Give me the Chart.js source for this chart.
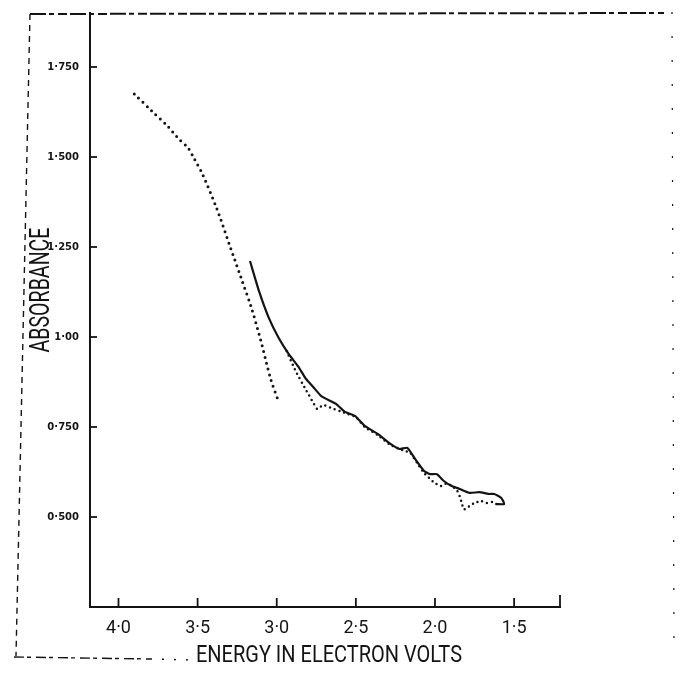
<!DOCTYPE html>
<html>
<head>
<meta charset="utf-8">
<script src="https://cdn.jsdelivr.net/npm/chart.js@4.4.0/dist/chart.umd.min.js"></script>
<style>
  html, body { margin: 0; padding: 0; background: #fff; }
  #wrap { width: 680px; height: 687px; position: relative; }
</style>
</head>
<body>
<div id="wrap"><canvas id="absChart"></canvas></div>
<script>
// dotted trace at high energy (steep edge)
const steepEnergy = [3.90, 3.79, 3.69, 3.625, 3.56, 3.52, 3.47, 3.38, 3.30, 3.225, 3.16, 3.10, 3.04, 2.99];
const steepAbs    = [1.675, 1.628, 1.586, 1.553, 1.525, 1.494, 1.453, 1.358, 1.258, 1.164, 1.081, 0.989, 0.886, 0.822];

// solid trace
const solidEnergy = [3.169, 3.1125, 3.05, 2.9875, 2.925, 2.8625, 2.819, 2.769, 2.719, 2.625, 2.569, 2.506,
  2.444, 2.3625, 2.281, 2.225, 2.175, 2.125, 2.069, 2.031, 1.9875, 1.944, 1.894, 1.844, 1.781, 1.719,
  1.6625, 1.625, 1.581, 1.5625, 1.6125];
const solidAbs = [1.211, 1.128, 1.053, 0.997, 0.953, 0.917, 0.886, 0.861, 0.836, 0.814, 0.792, 0.781,
  0.753, 0.731, 0.703, 0.689, 0.692, 0.661, 0.628, 0.619, 0.619, 0.600, 0.586, 0.578, 0.567, 0.569,
  0.564, 0.564, 0.553, 0.536, 0.536];

// dotted trace running under the solid one
const lowEnergy = [2.9375, 2.881, 2.819, 2.769, 2.744, 2.706, 2.656, 2.60, 2.55, 2.50, 2.444, 2.3625,
  2.281, 2.206, 2.156, 2.1125, 2.069, 2.031, 2.00, 1.9625, 1.925, 1.894, 1.8625, 1.844, 1.831, 1.819,
  1.80, 1.781, 1.75, 1.706, 1.675, 1.631, 1.60];
const lowAbs = [0.961, 0.906, 0.856, 0.817, 0.800, 0.811, 0.803, 0.794, 0.786, 0.778, 0.750, 0.728,
  0.700, 0.686, 0.678, 0.650, 0.622, 0.606, 0.594, 0.586, 0.594, 0.586, 0.575, 0.558, 0.539, 0.522,
  0.522, 0.531, 0.539, 0.544, 0.539, 0.542, 0.531];

const xTickValues = [4.0, 3.5, 3.0, 2.5, 2.0, 1.5];
const xTickLabels = ["4·0", "3·5", "3·0", "2·5", "2·0", "1·5"];
const yTickValues = [0.5, 0.75, 1.0, 1.25, 1.5, 1.75];
const yTickLabels = ["0·500", "0·750", "1·00", "1·250", "1·500", "1·750"];

const xTitle = "ENERGY IN ELECTRON VOLTS";
const yTitle = "ABSORBANCE";

const ink = "#141414";

function toPoints(xs, ys) {
  return xs.map((x, i) => ({ x: x, y: ys[i] }));
}

function seg(ctx, x1, y1, x2, y2) {
  ctx.beginPath();
  ctx.moveTo(x1, y1);
  ctx.lineTo(x2, y2);
  ctx.stroke();
}

// lettering squeezed to a given length, like stencilled captions
function narrowText(ctx, text, cx, cy, len, size, angle) {
  ctx.save();
  ctx.translate(cx, cy);
  ctx.rotate(angle);
  ctx.font = size + "px Roboto";
  ctx.textAlign = "center";
  ctx.textBaseline = "middle";
  const w = ctx.measureText(text).width;
  ctx.scale(len / w, 1);
  ctx.fillText(text, 0, 0);
  ctx.restore();
}

// inward tick marks, axis captions and the ragged page border
const paperMarks = {
  id: "paperMarks",
  afterDraw(chart) {
    const { ctx, scales } = chart;
    const x = scales.x, y = scales.y;
    ctx.save();
    ctx.strokeStyle = ink;
    ctx.fillStyle = ink;
    ctx.lineWidth = 1.8;
    xTickValues.forEach((v) => {
      const px = x.getPixelForValue(v);
      seg(ctx, px, x.top, px, x.top - 9);
    });
    seg(ctx, x.right, x.top, x.right, x.top - 12);
    yTickValues.forEach((v) => {
      const py = y.getPixelForValue(v);
      seg(ctx, y.right, py, y.right + 7, py);
    });

    narrowText(ctx, xTitle, 329, 656, 266, 24, 0);
    narrowText(ctx, yTitle, 42, 290, 125, 28, -Math.PI / 2);

    // page edges
    ctx.lineWidth = 2;
    ctx.setLineDash([16, 3, 5, 4, 9, 3]);
    seg(ctx, 30, 14, 664, 13);
    ctx.lineWidth = 1.4;
    ctx.setLineDash([6, 5]);
    seg(ctx, 30, 14, 16, 656);
    ctx.setLineDash([10, 3, 4, 5]);
    seg(ctx, 14, 657, 150, 659);
    ctx.setLineDash([2, 10]);
    seg(ctx, 150, 659, 195, 660);
    ctx.lineWidth = 1.2;
    ctx.setLineDash([2, 22]);
    seg(ctx, 672, 12, 674, 650);
    ctx.restore();
  },
};

new Chart(document.getElementById("absChart"), {
  type: "line",
  data: {
    datasets: [
      {
        data: toPoints(steepEnergy, steepAbs),
        borderColor: ink,
        borderWidth: 3,
        borderDash: [0, 6],
        borderCapStyle: "round",
        tension: 0.3,
        pointRadius: 0,
      },
      {
        data: toPoints(lowEnergy, lowAbs),
        borderColor: ink,
        borderWidth: 2.5,
        borderDash: [0, 5],
        borderCapStyle: "round",
        tension: 0.15,
        pointRadius: 0,
      },
      {
        data: toPoints(solidEnergy, solidAbs),
        borderColor: ink,
        borderWidth: 2.2,
        tension: 0.15,
        pointRadius: 0,
      },
    ],
  },
  options: {
    responsive: true,
    maintainAspectRatio: false,
    animation: false,
    layout: { padding: { top: 13, right: 120, left: 0, bottom: 0 } },
    plugins: {
      legend: { display: false },
      tooltip: { enabled: false },
    },
    scales: {
      x: {
        type: "linear",
        reverse: true,
        min: 1.21,
        max: 4.18,
        grid: { display: false },
        border: { display: true, color: ink, width: 2 },
        afterBuildTicks: (scale) => {
          scale.ticks = xTickValues.map((v) => ({ value: v }));
        },
        afterFit: (scale) => {
          scale.height = 80;
        },
        ticks: {
          color: ink,
          padding: 3,
          maxRotation: 0,
          autoSkip: false,
          font: { family: "Roboto", size: 18 },
          callback: (v) => xTickLabels[xTickValues.indexOf(v)],
        },
      },
      y: {
        type: "linear",
        min: 0.25,
        max: 1.9,
        grid: { display: false },
        border: { display: true, color: ink, width: 2 },
        afterBuildTicks: (scale) => {
          scale.ticks = yTickValues.map((v) => ({ value: v }));
        },
        afterFit: (scale) => {
          scale.width = 90;
        },
        ticks: {
          color: ink,
          padding: 3,
          autoSkip: false,
          font: { family: "'DejaVu Sans'", size: 10, weight: "bold" },
          callback: (v) => yTickLabels[yTickValues.indexOf(v)],
        },
      },
    },
  },
  plugins: [paperMarks],
});
</script>
</body>
</html>
